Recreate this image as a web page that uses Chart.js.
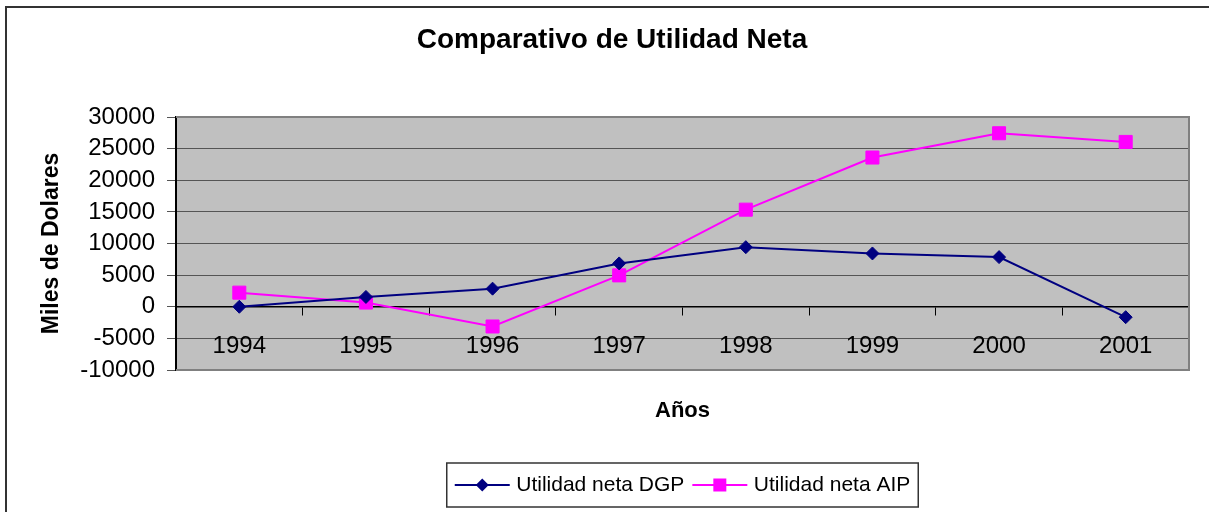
<!DOCTYPE html>
<html>
<head>
<meta charset="utf-8">
<script src="https://cdn.jsdelivr.net/npm/chart.js@4/dist/chart.umd.min.js"></script>
<style>
  html, body { margin: 0; padding: 0; background: #fff; }
  #wrap { width: 1209px; height: 512px; }
</style>
</head>
<body>
<div id="wrap"><canvas id="c" width="1209" height="512"></canvas></div>
<script>
const categories = ['1994', '1995', '1996', '1997', '1998', '1999', '2000', '2001'];
const dgpValues = [0, 1550, 2860, 6850, 9420, 8425, 7850, -1650];
const aipValues = [2230, 660, -3120, 4960, 15350, 23590, 27430, 26060];
const seriesNames = ['Utilidad neta DGP', 'Utilidad neta AIP'];
const chartTitle = 'Comparativo de Utilidad Neta';
const yTitle = 'Miles de Dolares';
const xTitle = 'Años';

const FONT = "'Liberation Sans', Arial, sans-serif";

const framePlugin = {
  id: 'frame',
  beforeDraw(chart) {
    const ctx = chart.ctx;
    const a = chart.chartArea;
    ctx.save();
    ctx.fillStyle = '#ffffff';
    ctx.fillRect(0, 0, chart.width, chart.height);
    ctx.strokeStyle = '#333333';
    ctx.lineWidth = 2;
    ctx.beginPath();
    ctx.moveTo(6, 512);
    ctx.lineTo(6, 7);
    ctx.lineTo(1209, 7);
    ctx.stroke();
    ctx.fillStyle = '#C0C0C0';
    ctx.fillRect(a.left, a.top, a.right - a.left, a.bottom - a.top);
    ctx.restore();
  },
  beforeDatasetsDraw(chart) {
    const ctx = chart.ctx;
    const a = chart.chartArea;
    ctx.save();
    ctx.strokeStyle = '#808080';
    ctx.lineWidth = 2;
    ctx.beginPath();
    ctx.moveTo(a.left, a.top);
    ctx.lineTo(a.right, a.top);
    ctx.lineTo(a.right, a.bottom);
    ctx.lineTo(a.left, a.bottom);
    ctx.stroke();
    ctx.restore();
  },
  afterDraw(chart) {
    const lg = chart.legend;
    if (!lg || !lg.legendHitBoxes || !lg.legendHitBoxes.length) return;
    const ctx = chart.ctx;
    const boxes = lg.legendHitBoxes;
    ctx.save();
    boxes.forEach((hb, i) => {
      const ds = chart.data.datasets[i];
      const cy = hb.top + hb.height / 2;
      const x0 = hb.left, x1 = hb.left + 55, cx = (x0 + x1) / 2;
      ctx.strokeStyle = ds.borderColor;
      ctx.lineWidth = 2;
      ctx.beginPath();
      ctx.moveTo(x0, cy);
      ctx.lineTo(x1, cy);
      ctx.stroke();
      ctx.fillStyle = ds.borderColor;
      ctx.beginPath();
      if (ds.pointStyle === 'rectRot') {
        const r = 6.5;
        ctx.moveTo(cx, cy - r); ctx.lineTo(cx + r, cy); ctx.lineTo(cx, cy + r); ctx.lineTo(cx - r, cy);
      } else {
        const s = 6.5;
        ctx.rect(cx - s, cy - s, 2 * s, 2 * s);
      }
      ctx.closePath();
      ctx.fill();
    });
    const first = boxes[0], last = boxes[boxes.length - 1];
    const cy = first.top + first.height / 2;
    ctx.strokeStyle = '#333333';
    ctx.lineWidth = 1.5;
    ctx.strokeRect(first.left - 8, cy - 22, (last.left + last.width + 8) - (first.left - 8), 44);
    ctx.restore();
  }
};

new Chart(document.getElementById('c'), {
  type: 'line',
  data: {
    labels: categories,
    datasets: [
      {
        label: seriesNames[0],
        data: dgpValues,
        borderColor: '#000080',
        backgroundColor: '#000080',
        borderWidth: 2,
        pointStyle: 'rectRot',
        pointRadius: 6.5,
        pointBorderWidth: 1,
        tension: 0,
        fill: false
      },
      {
        label: seriesNames[1],
        data: aipValues,
        borderColor: '#FF00FF',
        backgroundColor: '#FF00FF',
        borderWidth: 2,
        pointStyle: 'rect',
        pointRadius: 9.2,
        pointBorderWidth: 1,
        tension: 0,
        fill: false
      }
    ]
  },
  options: {
    responsive: false,
    animation: false,
    devicePixelRatio: 1,
    layout: { padding: { left: 35, right: 20, top: 0, bottom: 6.5 } },
    scales: {
      x: {
        type: 'category',
        offset: true,
        position: { y: 0 },
        grid: {
          display: true,
          drawOnChartArea: false,
          drawTicks: true,
          tickLength: 8,
          tickColor: '#000000',
          offset: true
        },
        border: { display: true, color: '#000000', width: 1.5 },
        ticks: {
          color: '#000000',
          font: { family: FONT, size: 24 },
          padding: 17,
          maxRotation: 0,
          autoSkip: false
        }
      },
      y: {
        min: -10000,
        max: 30000,
        afterFit(scale) { scale.width = 141; },
        grid: {
          color: '#555555',
          lineWidth: 1,
          tickLength: 9,
          tickColor: '#555555'
        },
        border: { display: true, color: '#000000', width: 2 },
        ticks: {
          stepSize: 5000,
          count: 9,
          color: '#000000',
          font: { family: FONT, size: 24, lineHeight: 1 },
          padding: 12,
          autoSkip: false,
          callback: (v) => String(v)
        },
        title: {
          display: true,
          text: yTitle,
          color: '#000000',
          font: { family: FONT, size: 23, weight: 'bold' },
          padding: { top: 3, bottom: 0 }
        }
      }
    },
    plugins: {
      title: {
        display: true,
        text: chartTitle,
        color: '#000000',
        font: { family: FONT, size: 28, weight: 'bold' },
        padding: { top: 23.2, bottom: 60.2 }
      },
      subtitle: {
        display: true,
        text: xTitle,
        position: 'bottom',
        fullSize: false,
        color: '#000000',
        font: { family: FONT, size: 22, weight: 'bold' },
        padding: { top: 27.8, bottom: 42.3 }
      },
      legend: {
        display: true,
        position: 'bottom',
        fullSize: false,
        weight: 3000,
        labels: {
          color: '#000000',
          font: { family: FONT, size: 21 },
          boxWidth: 51,
          boxHeight: 21,
          padding: 8,
          generateLabels(chart) {
            const items = Chart.defaults.plugins.legend.labels.generateLabels(chart);
            items.forEach(it => { it.fillStyle = 'rgba(0,0,0,0)'; it.strokeStyle = 'rgba(0,0,0,0)'; it.lineWidth = 0; });
            return items;
          }
        }
      },
      tooltip: { enabled: false }
    }
  },
  plugins: [framePlugin]
});
</script>
</body>
</html>
